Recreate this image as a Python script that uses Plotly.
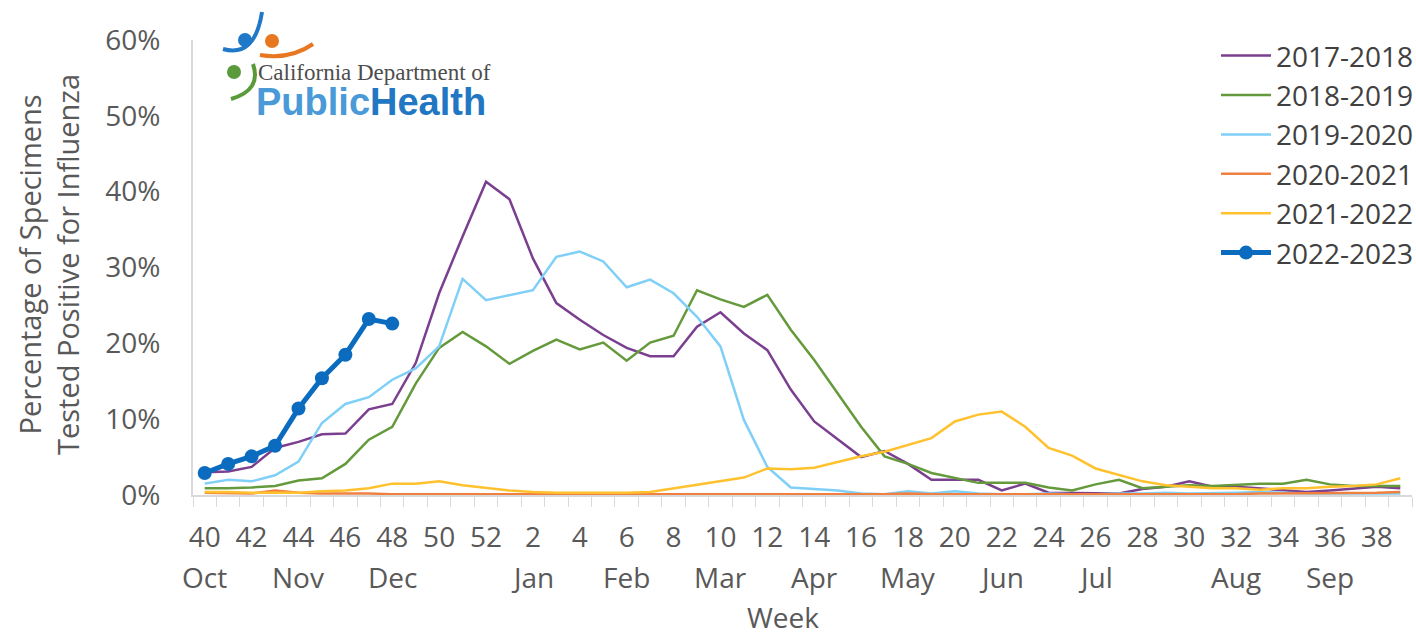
import plotly.graph_objects as go

# ---------------- data ----------------
weeks = list(range(40, 53)) + list(range(1, 40))  # 52 surveillance weeks
tick_weeks = [40, 42, 44, 46, 48, 50, 52, 2, 4, 6, 8, 10, 12, 14, 16, 18, 20,
              22, 24, 26, 28, 30, 32, 34, 36, 38]
month_labels = ["Oct", "Nov", "Dec", "Jan", "Feb", "Mar", "Apr", "May", "Jun",
                "Jul", "Aug", "Sep"]
month_weeks = [40, 44, 48, 2, 6, 10, 14, 18, 22, 26, 32, 36]

season_names = ["2017-2018", "2018-2019", "2019-2020", "2020-2021",
                "2021-2022", "2022-2023"]

s2017_2018 = [3.0, 3.1, 3.7, 6.2, 7.0, 8.0, 8.1, 11.3, 12.0, 17.4, 26.6, 34.1, 41.3,
              39.0, 31.2, 25.3, 23.1, 21.1, 19.4, 18.3, 18.3, 22.2, 24.1, 21.3, 19.1,
              13.9, 9.7, 7.3, 5.0, 5.8, 4.1, 2.0, 2.0, 2.0, 0.6, 1.5, 0.3, 0.3, 0.3,
              0.2, 0.8, 1.1, 1.8, 1.1, 1.1, 0.9, 0.6, 0.4, 0.6, 0.9, 1.1, 0.9]
s2018_2019 = [0.9, 0.9, 1.0, 1.2, 1.9, 2.2, 4.1, 7.3, 9.0, 14.7, 19.4, 21.5, 19.6,
              17.3, 19.0, 20.5, 19.2, 20.1, 17.7, 20.1, 21.0, 27.0, 25.8, 24.8, 26.4,
              21.8, 17.8, 13.4, 9.0, 5.1, 4.1, 2.9, 2.2, 1.6, 1.6, 1.6, 1.0, 0.6, 1.4,
              2.0, 0.9, 1.1, 1.3, 1.2, 1.3, 1.5, 1.5, 2.0, 1.4, 1.2, 1.2, 1.2]
s2019_2020 = [1.5, 2.0, 1.8, 2.6, 4.4, 9.5, 12.0, 12.9, 15.2, 16.7, 19.6, 28.5, 25.7,
              26.4, 27.0, 31.4, 32.1, 30.8, 27.4, 28.4, 26.6, 23.5, 19.6, 9.9, 3.7,
              1.0, 0.8, 0.6, 0.2, 0.1, 0.5, 0.2, 0.5, 0.2, 0.1, 0.1, 0.2, 0.1, 0.1,
              0.2, 0.2, 0.3, 0.2, 0.2, 0.3, 0.4, 0.3, 0.2, 0.2, 0.2, 0.2, 0.2]
s2020_2021 = [0.3, 0.2, 0.2, 0.6, 0.3, 0.2, 0.2, 0.2, 0.1, 0.1, 0.1, 0.1, 0.1,
              0.1, 0.1, 0.1, 0.1, 0.1, 0.1, 0.1, 0.1, 0.1, 0.1, 0.1, 0.1, 0.1,
              0.1, 0.1, 0.1, 0.1, 0.2, 0.1, 0.1, 0.1, 0.1, 0.1, 0.1, 0.1, 0.1,
              0.1, 0.1, 0.1, 0.1, 0.1, 0.1, 0.2, 0.2, 0.2, 0.3, 0.3, 0.3, 0.4]
s2021_2022 = [0.4, 0.4, 0.3, 0.3, 0.3, 0.5, 0.6, 0.9, 1.5, 1.5, 1.8, 1.3, 1.0,
              0.6, 0.4, 0.3, 0.3, 0.3, 0.3, 0.4, 0.9, 1.3, 1.8, 2.3, 3.5, 3.4,
              3.6, 4.4, 5.1, 5.7, 6.6, 7.5, 9.7, 10.6, 11.0, 9.0, 6.2, 5.2, 3.5,
              2.6, 1.8, 1.3, 1.1, 0.9, 0.9, 0.7, 0.9, 0.9, 1.1, 1.2, 1.4, 2.2]
s2022_2023 = [2.9, 4.1, 5.1, 6.5, 11.4, 15.4, 18.5, 23.2, 22.6]

y_ticks = [0, 10, 20, 30, 40, 50, 60]

# ---------------- styling ----------------
colors = ["#7B3F8F", "#659A3C", "#7FCFF7", "#F08040", "#FFC12E", "#0B6CBF"]
TXT = "#595959"
FONT = "Open Sans"
FS = 28

W, H = 1416, 637
ML, MR, MT, MB = 193, 4, 40, 142
PW, PH = W - ML - MR, H - MT - MB


def px(X):
    return (X - ML) / PW


def py(Y):
    return (H - MB - Y) / PH


idx = {w: i for i, w in enumerate(weeks)}
xs = list(range(len(weeks)))

fig = go.Figure()
series = [s2017_2018, s2018_2019, s2019_2020, s2020_2021, s2021_2022]
for name, vals, col in zip(season_names[:5], series, colors[:5]):
    fig.add_trace(go.Scatter(
        x=xs[:len(vals)], y=vals, name=name, mode="lines",
        line=dict(color=col, width=2.5)))

fig.add_trace(go.Scatter(
    x=xs[:len(s2022_2023)], y=s2022_2023, name=season_names[5],
    mode="lines+markers",
    line=dict(color=colors[5], width=5),
    marker=dict(color=colors[5], size=14)))

annotations = []
for m, w in zip(month_labels, month_weeks):
    annotations.append(dict(
        x=idx[w], y=py(577), xref="x", yref="paper", text=m, showarrow=False,
        xanchor="center", yanchor="middle",
        font=dict(family=FONT, size=FS, color=TXT)))

annotations.append(dict(
    x=px(783), y=py(617), xref="paper", yref="paper", text="Week",
    showarrow=False, xanchor="center", yanchor="middle",
    font=dict(family=FONT, size=FS, color=TXT)))

annotations.append(dict(
    x=px(48), y=py(265), xref="paper", yref="paper",
    text="Percentage of Specimens<br>Tested Positive for Influenza",
    textangle=-90, showarrow=False, xanchor="center", yanchor="middle",
    font=dict(family=FONT, size=29, color=TXT)))

# logo (text + simple glyph shapes)
annotations.append(dict(
    x=px(256), y=py(73), xref="paper", yref="paper",
    text="California Department of", showarrow=False,
    xanchor="left", yanchor="middle",
    font=dict(family="Liberation Serif", size=23, color="#4D4D4D")))
annotations.append(dict(
    x=px(254), y=py(102), xref="paper", yref="paper",
    text="<b><span style='color:#4A9AD8'>Public</span>"
         "<span style='color:#2277C2'>Health</span></b>",
    showarrow=False, xanchor="left", yanchor="middle",
    font=dict(family="Liberation Sans", size=38, color="#2277C2")))

shapes = []


def circ(cx, cy, r, col):
    shapes.append(dict(type="circle", xref="paper", yref="paper",
                       x0=px(cx - r), x1=px(cx + r), y0=py(cy + r), y1=py(cy - r),
                       fillcolor=col, line=dict(width=0), layer="above"))


def curve(pts, col, w):
    (x0, y0), (x1, y1), (x2, y2) = pts
    path = "M {:.5f},{:.5f} Q {:.5f},{:.5f} {:.5f},{:.5f}".format(
        px(x0), py(y0), px(x1), py(y1), px(x2), py(y2))
    shapes.append(dict(type="path", xref="paper", yref="paper", path=path,
                       line=dict(color=col, width=w), layer="above"))


curve([(223, 49), (255, 58), (262, 12)], "#1F78C8", 4)
curve([(260, 55), (290, 60), (313, 44)], "#E87722", 4)
curve([(253, 64), (262, 90), (231, 99)], "#5A9A3A", 4)
circ(245, 40, 7, "#1F78C8")
circ(272, 41, 7, "#E87722")
circ(234, 72, 7, "#5A9A3A")

fig.update_layout(
    width=W, height=H,
    margin=dict(l=ML, r=MR, t=MT, b=MB, pad=0, autoexpand=False),
    paper_bgcolor="white", plot_bgcolor="white",
    font=dict(family=FONT, size=FS, color=TXT),
    showlegend=True,
    legend=dict(x=1 + 7 / PW, y=1.02, xanchor="right", yanchor="top",
                font=dict(family=FONT, size=FS, color="#404040"),
                bgcolor="rgba(255,255,255,0)", itemwidth=50,
                tracegroupgap=0),
    annotations=annotations,
    shapes=shapes,
    xaxis=dict(
        range=[-0.5, len(weeks) - 0.5],
        tickmode="array",
        tickvals=[idx[w] for w in tick_weeks],
        ticktext=[str(w) for w in tick_weeks],
        ticks="", showgrid=False, zeroline=False,
        showline=True, linecolor="#D9D9D9", linewidth=2,
        ticklabelstandoff=16,
        tickfont=dict(family=FONT, size=FS, color=TXT),
        minor=dict(tickmode="linear", tick0=-0.5, dtick=1, ticks="outside",
                   ticklen=10, tickcolor="#D9D9D9", tickwidth=1, showgrid=False),
    ),
    yaxis=dict(
        range=[0, 60],
        tickmode="array",
        tickvals=y_ticks,
        ticktext=[f"{v}%" for v in y_ticks],
        ticks="", showgrid=False, zeroline=False,
        showline=True, linecolor="#D9D9D9", linewidth=2,
        ticklabelstandoff=25,
        tickfont=dict(family=FONT, size=FS, color=TXT),
    ),
)

fig.write_html("out.html", config={"displayModeBar": False},
               post_script="document.body.style.margin='0';")
